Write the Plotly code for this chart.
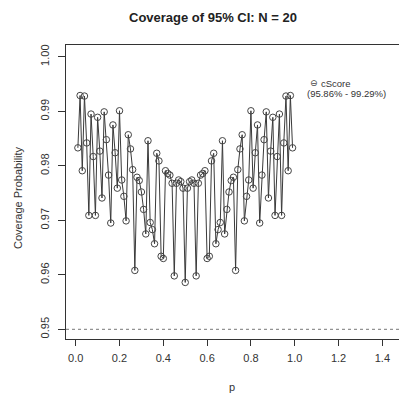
import plotly.graph_objects as go

# p grid (0.01 .. 0.99)
p_values = [i / 100 for i in range(1, 100)]

# Coverage probability
coverage = [
    0.9833, 0.9929, 0.9791, 0.9928, 0.9842, 0.9709, 0.9895, 0.9817, 0.9709, 0.9889,
    0.9827, 0.9741, 0.9899, 0.9848, 0.9783, 0.9695, 0.9875, 0.9824, 0.9759, 0.9901,
    0.9774, 0.9744, 0.9699, 0.9857, 0.9831, 0.9793, 0.9608, 0.9779, 0.9773, 0.9752,
    0.9720, 0.9675, 0.9846, 0.9696, 0.9683, 0.9657, 0.9823, 0.9809, 0.9634, 0.9630,
    0.9791, 0.9786, 0.9783, 0.9768, 0.9598, 0.9768, 0.9774, 0.9771, 0.9759, 0.9586,
    0.9759, 0.9771, 0.9774, 0.9768, 0.9598, 0.9768, 0.9783, 0.9786, 0.9791, 0.9630,
    0.9634, 0.9809, 0.9823, 0.9657, 0.9683, 0.9696, 0.9846, 0.9675, 0.9720, 0.9752,
    0.9773, 0.9779, 0.9608, 0.9793, 0.9831, 0.9857, 0.9699, 0.9744, 0.9774, 0.9901,
    0.9759, 0.9824, 0.9875, 0.9695, 0.9783, 0.9848, 0.9899, 0.9741, 0.9827, 0.9889,
    0.9709, 0.9817, 0.9895, 0.9709, 0.9842, 0.9928, 0.9791, 0.9929, 0.9833,
]

x_ticks = [0.0, 0.2, 0.4, 0.6, 0.8, 1.0, 1.2, 1.4]
x_tick_labels = ["0.0", "0.2", "0.4", "0.6", "0.8", "1.0", "1.2", "1.4"]
y_ticks = [0.95, 0.96, 0.97, 0.98, 0.99, 1.00]
y_tick_labels = ["0.95", "0.96", "0.97", "0.98", "0.99", "1.00"]
nominal = 0.95
series_name = "cScore"
range_text = "(95.86% - 99.29%)"
title_text = "<b>Coverage of 95% CI: N = 20</b>"

FONT = "Liberation Sans, Arial, Helvetica, sans-serif"
INK = "#333333"

fig = go.Figure()
fig.add_trace(go.Scatter(
    x=p_values, y=coverage, mode="lines+markers",
    line=dict(color="#3a3a3a", width=1),
    marker=dict(symbol="circle-open", size=6.5, color="#444444", line=dict(width=1)),
    name=series_name, showlegend=False, cliponaxis=False,
))

fig.add_hline(y=nominal, line=dict(color="#777777", width=1, dash="3px,3px"))

W, H = 399, 396
ml, mt, mb = 66, 45, 57
pw, ph = W - ml, H - mt - mb

def px_x(x):
    return (x - ml) / pw

def px_y(y):
    return (H - mb - y) / ph

fig.update_layout(
    width=W, height=H,
    margin=dict(l=ml, r=0, t=mt, b=mb, autoexpand=False),
    paper_bgcolor="white", plot_bgcolor="white",
    font=dict(family=FONT, size=11, color=INK),
    title=dict(text=title_text, x=213 / W, xref="container", xanchor="center",
               y=1 - 17 / H, yref="container", yanchor="middle",
               font=dict(family=FONT, size=13, color="#222222")),
    xaxis=dict(range=[-0.0443, 1.476], tickvals=x_ticks, ticktext=x_tick_labels,
               automargin=False,
               showgrid=False, zeroline=False, showline=True, mirror=True,
               linecolor=INK, linewidth=1, ticks="outside", ticklen=6,
               tickcolor=INK, ticklabelstandoff=3,
               tickfont=dict(family=FONT, size=11, color=INK)),
    yaxis=dict(range=[0.94822, 1.00217], tickvals=y_ticks, ticktext=y_tick_labels,
               automargin=False,
               showgrid=False, zeroline=False, showline=True, mirror=False,
               linecolor=INK, linewidth=1, ticks="outside", ticklen=7,
               tickcolor=INK, tickangle=-90, ticklabelstandoff=5,
               tickfont=dict(family=FONT, size=11, color=INK)),
)

annotations = [
    dict(text="p", x=px_x(232), y=px_y(387), xref="paper", yref="paper",
         showarrow=False, xanchor="center", yanchor="middle",
         font=dict(family=FONT, size=11, color=INK)),
    dict(text="Coverage Probability", x=px_x(18), y=px_y(198), xref="paper", yref="paper",
         showarrow=False, textangle=-90, xanchor="center", yanchor="middle",
         font=dict(family=FONT, size=11, color=INK)),
    dict(text="⊖", x=px_x(314), y=px_y(83), xref="paper", yref="paper",
         showarrow=False, xanchor="center", yanchor="middle",
         font=dict(family="DejaVu Sans", size=9, color="#444444")),
    dict(text=series_name, x=px_x(319), y=px_y(83), xref="paper", yref="paper",
         showarrow=False, xanchor="left", yanchor="middle",
         font=dict(family=FONT, size=9.5, color=INK)),
    dict(text=range_text, x=px_x(305), y=px_y(94), xref="paper", yref="paper",
         showarrow=False, xanchor="left", yanchor="middle",
         font=dict(family=FONT, size=9.5, color=INK)),
]
fig.update_layout(annotations=annotations)

fig.write_html(
    "out.html",
    config={"displayModeBar": False},
    post_script="document.body.style.margin='0';document.body.style.padding='0';"
                "document.documentElement.style.overflow='hidden';",
)
